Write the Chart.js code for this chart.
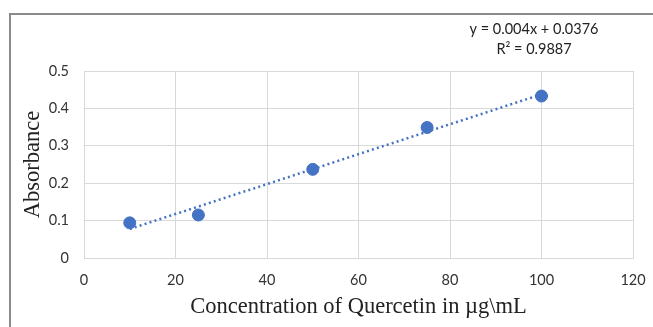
<!DOCTYPE html>
<html><head><meta charset="utf-8">
<script src="https://cdn.jsdelivr.net/npm/chart.js@4/dist/chart.umd.min.js"></script>
<style>
html,body{margin:0;padding:0;background:#fff;}
#wrap{position:relative;width:653px;height:327px;overflow:hidden;}
#frame{position:absolute;left:9px;top:13px;width:700px;height:400px;border-left:2px solid #8a8a8a;border-top:2px solid #8a8a8a;}
canvas{position:absolute;left:0;top:0;}
</style></head>
<body>
<div id="wrap"><div id="frame"></div><canvas id="c" width="653" height="327"></canvas></div>
<script>
const concentrations = [10, 25, 50, 75, 100];
const absorbance = [0.094, 0.115, 0.237, 0.349, 0.433];
const trendSlope = 0.004;
const trendIntercept = 0.0376;
const equationLines = ["y = 0.004x + 0.0376", "R² = 0.9887"];
const xTitle = "Concentration of Quercetin in µg\\mL";
const yTitle = "Absorbance";

const pts = concentrations.map((x,i)=>({x, y: absorbance[i]}));
const xStart = concentrations[0], xEnd = concentrations[concentrations.length-1];
const trend = [xStart, xEnd].map(x=>({x, y: trendSlope*x + trendIntercept}));
const blue = '#4472C4';
const tickFont = {family: 'Lato, "Open Sans", sans-serif', size: 14.5};

const eqPlugin = {
  id: 'eq',
  afterDraw(chart){
    const {ctx, chartArea} = chart;
    ctx.save();
    ctx.fillStyle = '#222';
    ctx.font = '14.5px Lato, "Open Sans", sans-serif';
    ctx.textAlign = 'center';
    ctx.textBaseline = 'middle';
    const cx = chartArea.right - 99;
    ctx.fillText(equationLines[0], cx, chartArea.top - 42);
    ctx.fillText(equationLines[1], cx, chartArea.top - 22);
    ctx.restore();
  }
};

new Chart(document.getElementById('c'), {
  type: 'scatter',
  data: {
    datasets: [
      {label: 'Data', data: pts, backgroundColor: blue, borderColor: blue, pointRadius: 6, pointHoverRadius: 6, order: 1},
      {label: 'Trend', type: 'line', data: trend, borderColor: blue, borderWidth: 2.5, borderDash: [2, 3.2], pointRadius: 0, fill: false, order: 2}
    ]
  },
  options: {
    responsive: false,
    animation: false,
    events: [],
    layout: {padding: {left: 0, right: 20, top: 71, bottom: 0}},
    plugins: {legend: {display: false}, tooltip: {enabled: false}},
    scales: {
      x: {
        type: 'linear', min: 0, max: 120,
        ticks: {stepSize: 20, color: '#333', font: tickFont, padding: 14},
        grid: {color: '#d9d9d9', lineWidth: 1, drawTicks: false},
        border: {color: '#d9d9d9'},
        title: {display: true, text: xTitle, color: '#222', font: {family: '"Liberation Serif", "DejaVu Serif", serif', size: 22.5}, padding: {top: 0, bottom: 6}},
        afterFit(s){ s.height = 69; s.paddingLeft = 0; s.paddingRight = 0; }
      },
      y: {
        min: 0, max: 0.5,
        ticks: {stepSize: 0.1, color: '#333', font: tickFont, padding: 15, callback: v => Math.round(v*10)/10 === 0 ? '0' : (Math.round(v*10)/10).toString()},
        grid: {color: '#d9d9d9', lineWidth: 1, drawTicks: false},
        border: {color: '#d9d9d9'},
        title: {display: true, text: yTitle, color: '#222', font: {family: '"Liberation Serif", "DejaVu Serif", serif', size: 22.5}, padding: {top: 20, bottom: 0}},
        afterFit(s){ s.width = 84; s.paddingTop = 0; s.paddingBottom = 0; }
      }
    }
  },
  plugins: [eqPlugin]
});
</script>
</body></html>
